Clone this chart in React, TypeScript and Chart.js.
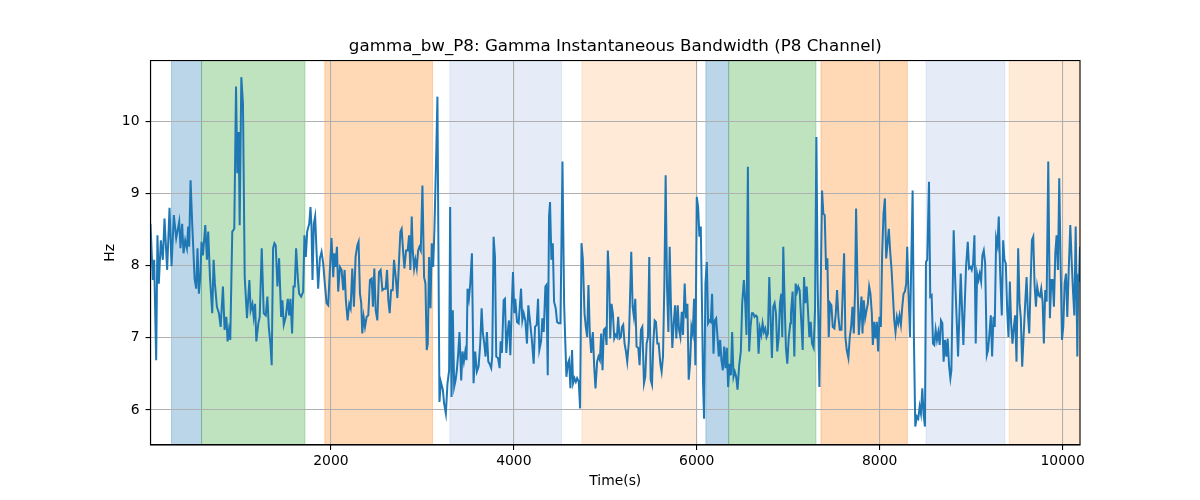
import React, { useEffect, useRef } from "react";
import { Chart, registerables } from "chart.js";

Chart.register(...registerables);

const TITLE = "gamma_bw_P8: Gamma Instantaneous Bandwidth (P8 Channel)";
const X_LABEL = "Time(s)";
const Y_LABEL = "Hz";
const X_TICKS = [2000, 4000, 6000, 8000, 10000];
const Y_TICKS = [6, 7, 8, 9, 10];
const X_MIN = 28;
const X_MAX = 10190;
const Y_MIN = 5.515;
const Y_MAX = 10.84;

// [time (s), bandwidth (Hz)]
const GAMMA_BW: [number, number][] = [
  [28, 8.58], [53, 7.8], [68, 8.08], [90, 6.69], [104, 8.42], [119, 7.75], [141, 8.35], [163, 8.08], [181, 8.65], [210, 7.94],
  [236, 8.8], [258, 7.99], [283, 8.7], [309, 8.38], [342, 8.61], [356, 8.24], [374, 8.58], [389, 8.17], [407, 8.35], [426, 8.24],
  [440, 8.54], [451, 8.26], [466, 9.18], [484, 8.58], [510, 7.82], [528, 7.68], [542, 8.24], [557, 7.61], [572, 7.84], [586, 8.33],
  [601, 8.14], [627, 8.56], [645, 8.08], [659, 8.47], [678, 7.84], [703, 7.34], [718, 8.08], [732, 7.75], [754, 7.43], [776, 7.34],
  [795, 7.15], [820, 7.71], [838, 7.11], [857, 7.29], [871, 6.95], [886, 7.11], [900, 6.97], [922, 8.47], [944, 8.51], [963, 10.48],
  [977, 9.28], [992, 9.85], [1003, 8.56], [1021, 10.61], [1039, 10.24], [1058, 7.84], [1083, 7.27], [1109, 7.8], [1123, 7.38], [1142, 7.47],
  [1156, 7.29], [1171, 7.47], [1185, 6.95], [1207, 7.2], [1222, 7.29], [1244, 8.24], [1266, 7.34], [1288, 7.31], [1306, 7.57], [1321, 7.15],
  [1339, 6.92], [1353, 6.62], [1368, 8.24], [1383, 8.31], [1397, 8.28], [1416, 7.71], [1434, 8.1], [1456, 7.29], [1470, 7.52], [1485, 7.18],
  [1507, 7.29], [1529, 7.54], [1544, 7.31], [1558, 7.54], [1576, 7.06], [1591, 7.71], [1605, 7.71], [1620, 8.24], [1638, 7.84], [1653, 7.61],
  [1675, 7.57], [1697, 7.64],
  [1711, 8.42], [1726, 8.12], [1741, 8.47], [1763, 8.58], [1777, 8.81], [1788, 8.54], [1799, 7.8], [1814, 8.58], [1828, 8.68], [1843, 8.21],
  [1861, 7.68], [1880, 8.1], [1898, 8.19], [1916, 8.03], [1934, 7.75], [1953, 7.48], [1971, 7.45], [1989, 7.94], [2007, 8.38], [2026, 7.84],
  [2037, 8.17], [2051, 7.98], [2066, 8.26], [2080, 7.64], [2099, 7.98], [2117, 7.94], [2135, 7.66], [2150, 7.94], [2164, 7.52], [2183, 7.24],
  [2201, 7.47], [2216, 7.41], [2234, 7.96], [2252, 7.43], [2270, 8.12], [2289, 8.28], [2303, 8.33], [2318, 7.61], [2332, 7.48], [2343, 7.06],
  [2358, 7.29], [2373, 7.15], [2391, 7.29], [2409, 7.31], [2427, 7.8], [2446, 7.82], [2460, 7.43], [2475, 7.96], [2490, 7.38], [2508, 7.24],
  [2526, 7.91], [2544, 7.94], [2563, 7.66], [2581, 7.68], [2599, 7.68], [2614, 7.94], [2628, 7.52], [2643, 7.34], [2658, 7.66], [2676, 7.66],
  [2690, 8.08], [2709, 7.84], [2727, 7.55], [2745, 8.06], [2760, 8.47], [2774, 8.51], [2789, 8.21], [2804, 7.96], [2822, 8.21], [2840, 8.21],
  [2855, 8.42], [2869, 7.94], [2884, 8.68], [2895, 8.21], [2910, 7.96], [2924, 8.08], [2939, 7.96], [2954, 8.21], [2968, 8.26], [2983, 8.21],
  [3001, 9.11], [3019, 7.84], [3034, 7.75], [3048, 6.83], [3059, 6.92], [3074, 8.12], [3089, 7.41], [3103, 8.31], [3118, 7.98], [3132, 8.49],
  [3151, 9.51], [3165, 10.34], [3176, 8.21], [3187, 6.11], [3202, 6.39], [3224, 6.28], [3238, 6.09], [3257, 5.95], [3275, 6.37], [3293, 6.55],
  [3304, 8.81], [3319, 6.18], [3333, 7.38], [3348, 6.32], [3363, 6.41], [3377, 6.55], [3392, 6.78], [3406, 7.08], [3425, 6.41], [3439, 6.81],
  [3454, 6.67], [3469, 6.81], [3483, 6.69],
  [3494, 7.68], [3509, 7.54], [3523, 7.73], [3542, 8.17], [3560, 6.37], [3578, 6.81], [3596, 6.53], [3615, 6.6], [3633, 6.92], [3648, 7.41],
  [3662, 7.06], [3677, 6.92], [3691, 6.74], [3706, 7.08], [3721, 6.67], [3735, 6.64], [3753, 6.58], [3764, 6.74], [3779, 8.4], [3794, 8.12],
  [3808, 6.74], [3827, 6.72], [3845, 6.58], [3856, 6.95], [3870, 6.79], [3889, 7.52], [3903, 7.54], [3918, 6.79], [3932, 7.06], [3947, 7.24],
  [3962, 6.76], [3976, 7.38], [3991, 7.91], [4005, 7.34], [4016, 7.54], [4035, 7.22], [4053, 7.2], [4079, 7.68], [4093, 7.24], [4108, 7.34],
  [4126, 7.24], [4144, 6.92], [4159, 7.45], [4181, 7.18], [4199, 6.95], [4217, 6.64], [4232, 7.15], [4250, 7.18], [4265, 7.54], [4279, 6.83],
  [4298, 6.95], [4312, 7.27], [4327, 7.08], [4345, 7.71], [4356, 7.73], [4371, 6.48], [4385, 8.68], [4396, 8.88], [4411, 8.08], [4426, 8.31],
  [4440, 7.5], [4458, 7.41], [4473, 7.22], [4491, 7.2], [4510, 7.2], [4532, 9.44], [4550, 7.47], [4561, 7.01], [4575, 6.46], [4590, 6.64],
  [4604, 6.69], [4619, 6.3], [4637, 6.83], [4648, 6.37], [4663, 6.44], [4678, 6.39], [4692, 6.44], [4710, 6.39], [4725, 6.02], [4740, 8.31],
  [4754, 8.1], [4773, 7.34], [4787, 7.15], [4802, 7.01], [4816, 7.73], [4831, 7.06], [4846, 6.79], [4864, 7.08], [4879, 6.6], [4893, 6.3],
  [4911, 6.67], [4926, 6.74], [4941, 6.69], [4955, 7.06], [4970, 6.55], [4984, 7.11], [4999, 7.13], [5014, 6.9], [5028, 8.21], [5043, 7.8],
  [5054, 6.99], [5068, 7.47], [5083, 7.34], [5098, 6.99], [5112, 7.04], [5127, 7.01], [5141, 7.29], [5156, 6.99], [5171, 7.01], [5182, 7.15],
  [5196, 7.18], [5211, 6.92], [5226, 6.81], [5240, 6.67], [5258, 6.95],
  [5284, 8.19], [5299, 7.43], [5313, 7.29], [5328, 7.54], [5342, 6.88], [5361, 6.86], [5375, 6.62], [5390, 7.11], [5405, 7.15], [5423, 6.37],
  [5437, 6.46], [5452, 6.92], [5467, 7.01], [5481, 8.12], [5496, 6.42], [5511, 6.35], [5525, 6.92], [5540, 7.24], [5554, 7.22], [5569, 6.92],
  [5584, 6.92], [5602, 6.64], [5616, 6.53], [5631, 6.74], [5646, 7.75], [5660, 9.25], [5675, 7.71], [5690, 7.08], [5704, 8.26], [5719, 7.38],
  [5733, 6.86], [5748, 7.2], [5763, 7.45], [5777, 6.99], [5792, 7.45], [5806, 7.11], [5821, 7.01], [5836, 7.36], [5850, 7.04], [5868, 7.75],
  [5883, 7.27], [5898, 7.47], [5912, 6.42], [5927, 6.64], [5942, 7.15], [5956, 7.06], [5971, 7.54], [5985, 6.62], [6000, 8.95], [6015, 8.81],
  [6029, 8.4], [6044, 8.54], [6058, 7.38], [6069, 6.37], [6080, 5.88], [6095, 7.75], [6110, 8.05], [6124, 7.2], [6139, 7.24], [6153, 7.22],
  [6168, 7.61], [6183, 6.78], [6197, 7.24], [6212, 7.27], [6227, 7.01], [6241, 6.74], [6256, 6.97], [6270, 6.69], [6285, 6.55], [6300, 6.88],
  [6314, 6.58], [6329, 6.86], [6343, 6.32], [6358, 6.64], [6373, 6.48], [6387, 7.08], [6402, 6.46], [6416, 6.53], [6431, 6.46], [6446, 6.28],
  [6464, 6.62], [6482, 6.81], [6497, 7.48], [6515, 7.8], [6530, 7.48], [6544, 7.04], [6559, 9.37], [6573, 6.81], [6588, 7.15], [6603, 7.34],
  [6617, 7.34], [6632, 7.29], [6647, 7.31], [6661, 7.29], [6676, 6.78], [6690, 7.13], [6705, 7.04], [6720, 7.2], [6734, 7.08], [6749, 7.13],
  [6763, 7.01], [6778, 7.06], [6793, 7.84], [6807, 7.29], [6822, 6.72], [6837, 7.43], [6851, 7.48], [6866, 7.34], [6880, 6.81], [6895, 6.99],
  [6910, 7.48], [6924, 7.61], [6935, 7.01], [6946, 8.26], [6961, 7.48], [6975, 6.86], [6990, 6.64], [7005, 6.99], [7023, 7.2],
  [7030, 7.34], [7048, 7.64], [7067, 6.74], [7081, 7.75], [7096, 7.64], [7110, 7.71], [7125, 7.66], [7143, 7.22], [7158, 6.83], [7173, 7.84],
  [7187, 7.48], [7202, 7.71], [7216, 7.38], [7231, 7.01], [7246, 7.22], [7260, 6.92], [7278, 6.86], [7293, 7.38], [7308, 9.78], [7322, 7.75],
  [7341, 6.32], [7355, 7.66], [7370, 9.04], [7384, 8.72], [7399, 8.7], [7414, 7.94], [7428, 8.1], [7443, 7.01], [7457, 7.48], [7472, 7.45],
  [7487, 7.15], [7505, 7.13], [7520, 7.34], [7534, 7.66], [7549, 7.29], [7563, 7.11], [7582, 7.11], [7596, 7.64], [7611, 8.17], [7625, 7.01],
  [7640, 6.83], [7658, 6.72], [7673, 7.01], [7688, 7.15], [7702, 7.43], [7717, 7.06], [7731, 7.66], [7742, 8.79], [7757, 7.78], [7772, 7.04],
  [7786, 7.29], [7801, 7.57], [7812, 7.06], [7826, 7.52], [7841, 7.27], [7856, 7.38], [7870, 7.47], [7885, 7.71], [7899, 7.61], [7914, 7.34],
  [7925, 6.9], [7940, 7.22], [7954, 6.99], [7969, 7.22], [7983, 6.81], [7998, 7.29], [8013, 7.15], [8027, 8.17], [8042, 8.72], [8057, 8.93],
  [8071, 8.1], [8086, 8.31], [8100, 8.51], [8115, 8.19], [8130, 7.94], [8144, 7.61], [8159, 7.24], [8173, 7.08], [8188, 7.29], [8203, 7.2],
  [8217, 7.31], [8232, 7.18], [8247, 7.43], [8261, 7.61], [8276, 7.64], [8290, 7.75], [8301, 8.26], [8316, 7.59], [8331, 7.01], [8345, 8.03],
  [8360, 9.04], [8374, 7.01], [8389, 5.77], [8407, 5.91], [8422, 5.88], [8437, 6.05], [8451, 5.95], [8466, 6.3], [8480, 5.93], [8495, 5.77],
  [8506, 8.05], [8520, 8.08], [8539, 9.16], [8553, 7.57], [8568, 7.59], [8583, 6.92], [8597, 6.9], [8612, 7.11], [8626, 6.97], [8641, 7.08],
  [8656, 6.9], [8670, 7.24], [8685, 7.2], [8699, 6.67], [8714, 6.97], [8729, 6.74], [8743, 6.99], [8758, 6.62], [8773, 6.44],
  [8784, 6.55], [8809, 8.49], [8827, 7.75], [8857, 6.74], [8886, 7.89], [8915, 6.9], [8944, 7.98], [8963, 8.33], [8977, 7.96], [8992, 7.98],
  [9006, 7.94], [9021, 8.03], [9036, 8.42], [9050, 6.92], [9065, 7.89], [9080, 7.8], [9094, 7.89], [9109, 7.78], [9123, 8.14], [9138, 8.21],
  [9153, 8.03], [9171, 6.76], [9185, 6.83], [9200, 7.06], [9215, 7.31], [9229, 6.74], [9244, 7.29], [9258, 7.15], [9273, 8.38], [9288, 8.28],
  [9302, 8.68], [9317, 7.91], [9335, 7.31], [9350, 8.35], [9364, 8.08], [9379, 8.03], [9394, 7.38], [9408, 7.01], [9423, 7.78], [9437, 7.2],
  [9452, 6.92], [9467, 7.15], [9481, 7.31], [9496, 6.67], [9514, 8.24], [9529, 7.48], [9543, 7.27], [9558, 6.6], [9573, 7.01], [9587, 7.38],
  [9606, 7.84], [9620, 7.34], [9635, 7.06], [9649, 7.71], [9664, 8.35], [9679, 8.4], [9693, 7.75], [9708, 7.43], [9722, 7.71], [9737, 7.59],
  [9752, 7.57], [9766, 7.68], [9781, 7.5], [9795, 6.92], [9810, 7.66], [9825, 7.5], [9843, 9.44], [9861, 7.27], [9876, 7.8], [9890, 7.8],
  [9905, 7.43], [9920, 8.17], [9934, 8.42], [9949, 7.94], [9963, 9.21], [9978, 8.03], [9993, 6.97], [10007, 7.15], [10022, 7.75], [10037, 7.89],
  [10051, 7.29], [10069, 8.03], [10084, 8.56], [10099, 8.06], [10113, 7.66], [10128, 7.31], [10143, 8.54], [10161, 6.74], [10172, 7.84], [10180, 7.82],
  [10190, 8.26],
];

// Shaded state intervals
const BAND_START = [258, 586, 1934, 3301, 4745, 6100, 6349, 7358, 8507, 9417];
const BAND_END = [586, 1716, 3112, 4522, 5998, 6349, 7303, 8302, 9369, 10190];
const BAND_KIND = ["blue", "green", "orange", "paleBlue", "paleOrange", "blue", "green", "orange", "paleBlue", "paleOrange"];

const BAND_FILL: Record<string, string> = {
  blue: "rgba(31,119,180,0.3)",
  green: "rgba(44,160,44,0.3)",
  orange: "rgba(255,127,14,0.3)",
  paleBlue: "rgba(110,150,215,0.18)",
  paleOrange: "rgba(253,150,60,0.2)",
};

const FONT = "'DejaVu Sans', 'Liberation Sans', sans-serif";

const bandsPlugin = {
  id: "bands",
  beforeDraw(chart: any) {
    const { ctx, chartArea, scales } = chart;
    const xs = scales.x;
    ctx.save();
    for (let i = 0; i < BAND_START.length; i++) {
      let x0 = xs.getPixelForValue(BAND_START[i]);
      let x1 = xs.getPixelForValue(BAND_END[i]);
      x0 = Math.max(x0, chartArea.left);
      x1 = Math.min(x1, chartArea.right);
      const color = BAND_FILL[BAND_KIND[i]];
      ctx.fillStyle = color;
      ctx.fillRect(x0, chartArea.top, x1 - x0, chartArea.bottom - chartArea.top);
      ctx.strokeStyle = color;
      ctx.lineWidth = 1;
      ctx.beginPath();
      ctx.moveTo(x0, chartArea.top);
      ctx.lineTo(x0, chartArea.bottom);
      ctx.moveTo(x1, chartArea.top);
      ctx.lineTo(x1, chartArea.bottom);
      ctx.stroke();
    }
    ctx.restore();
  },
};

const framePlugin = {
  id: "frame",
  afterDraw(chart: any) {
    const { ctx, chartArea } = chart;
    ctx.save();
    ctx.strokeStyle = "#000";
    ctx.lineWidth = 1.1;
    ctx.strokeRect(chartArea.left, chartArea.top, chartArea.right - chartArea.left, chartArea.bottom - chartArea.top);
    ctx.restore();
  },
};

export default function App() {
  const canvasRef = useRef<HTMLCanvasElement | null>(null);

  useEffect(() => {
    if (!canvasRef.current) return;
    const chart = new Chart(canvasRef.current, {
      type: "line",
      data: {
        datasets: [
          {
            label: "gamma_bw_P8",
            data: GAMMA_BW.map(([t, v]) => ({ x: t, y: v })),
            borderColor: "#1f77b4",
            borderWidth: 2,
            pointRadius: 0,
            tension: 0,
            fill: false,
          },
        ],
      },
      options: {
        animation: false,
        responsive: false,
        devicePixelRatio: 1,
        layout: { padding: { left: 0, right: 120, top: 0, bottom: 0 } },
        plugins: {
          legend: { display: false },
          tooltip: { enabled: false },
          title: {
            display: true,
            text: TITLE,
            fullSize: false,
            color: "#000",
            font: { family: FONT, size: 16.7, weight: "normal", lineHeight: 1.2 },
            padding: { top: 36.4, bottom: 4.1 },
          },
        },
        scales: {
          x: {
            type: "linear",
            min: X_MIN,
            max: X_MAX,
            afterBuildTicks: (s: any) => {
              s.ticks = X_TICKS.map((v) => ({ value: v }));
            },
            afterFit: (s: any) => {
              s.height = 55;
            },
            grid: { color: "#b0b0b0", lineWidth: 1.1, tickColor: "#000", tickLength: 5, tickWidth: 1.1 },
            border: { color: "#000", width: 1.1 },
            ticks: {
              color: "#000",
              font: { family: FONT, size: 13.9 },
              padding: 3,
              maxRotation: 0,
              autoSkip: false,
              callback: (v: any) => String(v),
            },
            title: {
              display: true,
              text: X_LABEL,
              color: "#000",
              font: { family: FONT, size: 13.9, lineHeight: 1.2 },
              padding: { top: 0, bottom: 10.7 },
            },
          },
          y: {
            type: "linear",
            min: Y_MIN,
            max: Y_MAX,
            afterBuildTicks: (s: any) => {
              s.ticks = Y_TICKS.map((v) => ({ value: v }));
            },
            afterFit: (s: any) => {
              s.width = 150.5;
            },
            grid: { color: "#b0b0b0", lineWidth: 1.1, tickColor: "#000", tickLength: 5, tickWidth: 1.1 },
            border: { color: "#000", width: 1.1 },
            ticks: {
              color: "#000",
              font: { family: FONT, size: 13.9 },
              padding: 6,
              autoSkip: false,
              callback: (v: any) => String(v),
            },
            title: {
              display: true,
              text: Y_LABEL,
              color: "#000",
              font: { family: FONT, size: 13.9, lineHeight: 1.2 },
              padding: { top: 101.7, bottom: 0 },
            },
          },
        },
      },
      plugins: [bandsPlugin, framePlugin],
    } as any);
    return () => chart.destroy();
  }, []);

  return (
    <div style={{ position: "absolute", left: 0, top: 0, width: 1200, height: 500, background: "#fff" }}>
      <canvas ref={canvasRef} width={1200} height={500} style={{ width: 1200, height: 500, display: "block" }} />
    </div>
  );
}
